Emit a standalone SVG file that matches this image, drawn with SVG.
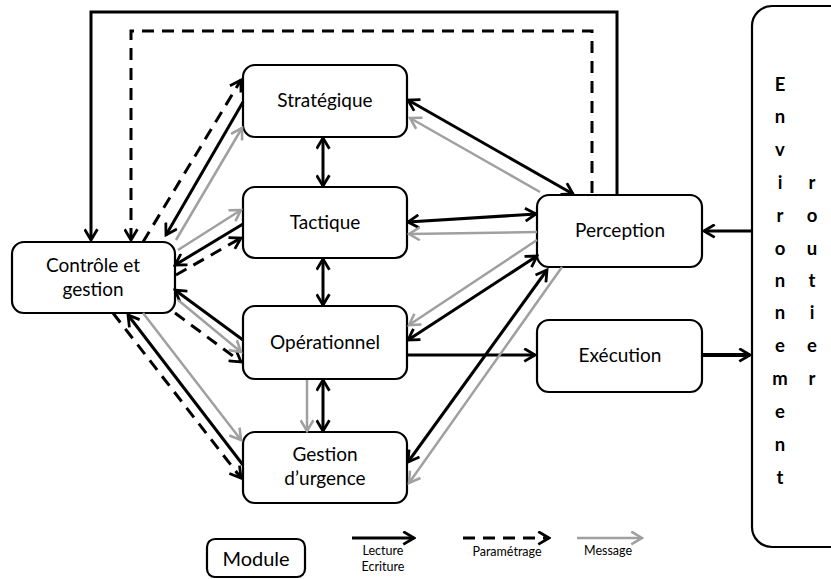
<svg xmlns="http://www.w3.org/2000/svg" width="831" height="579" viewBox="0 0 831 579">
<style>
.box{fill:#fff;stroke:#000;stroke-width:2.2}
.t{font-family:Lato,"Open Sans","Liberation Sans",sans-serif;font-size:19px;fill:#000;text-anchor:middle}
.env{font-family:Lato,"Open Sans","Liberation Sans",sans-serif;font-size:18.5px;font-weight:bold;fill:#000;text-anchor:middle}
.lg{font-family:Lato,"Open Sans","Liberation Sans",sans-serif;font-size:12.5px;fill:#000;text-anchor:middle}
.s{fill:none;stroke:#000;stroke-width:3;marker-end:url(#ab)}
.b{fill:none;stroke:#000;stroke-width:3;marker-end:url(#ab);marker-start:url(#ab)}
.d{fill:none;stroke:#000;stroke-width:3;stroke-dasharray:12 8;marker-end:url(#ab)}
.g{fill:none;stroke:#a0a0a0;stroke-width:2.5;marker-end:url(#ag)}
</style>
<defs>
<marker id="ab" viewBox="0 0 14 14" refX="12" refY="7" markerWidth="15" markerHeight="15" markerUnits="userSpaceOnUse" orient="auto-start-reverse"><path d="M2,1 L12,7 L2,13" fill="none" stroke="#000" stroke-width="2.6" stroke-dasharray="none"/></marker>
<marker id="ag" viewBox="0 0 14 14" refX="12" refY="7" markerWidth="15" markerHeight="15" markerUnits="userSpaceOnUse" orient="auto-start-reverse"><path d="M2,1 L12,7 L2,13" fill="none" stroke="#a0a0a0" stroke-width="2.4"/></marker>
</defs>
<rect width="831" height="579" fill="#fff"/>

<g id="strategique"><rect class="box" x="243" y="65" width="164" height="72" rx="12"/><text class="t" x="325" y="107">Stratégique</text></g>
<g id="tactique"><rect class="box" x="243" y="187" width="164" height="71" rx="12"/><text class="t" x="325" y="229">Tactique</text></g>
<g id="operationnel"><rect class="box" x="243" y="306" width="164" height="73" rx="12"/><text class="t" x="325" y="349">Opérationnel</text></g>
<g id="gestion-urgence"><rect class="box" x="243" y="432" width="164" height="71" rx="12"/><text class="t" x="325" y="461">Gestion</text><text class="t" x="325" y="485">d’urgence</text></g>
<g id="controle"><rect class="box" x="12" y="242" width="163" height="71" rx="12"/><text class="t" x="93" y="272">Contrôle et</text><text class="t" x="93" y="296">gestion</text></g>
<g id="perception"><rect class="box" x="537" y="195" width="165" height="72" rx="12"/><text class="t" x="620" y="237">Perception</text></g>
<g id="execution"><rect class="box" x="537" y="320" width="165" height="72" rx="12"/><text class="t" x="620" y="362">Exécution</text></g>
<g id="environnement"><rect class="box" x="752" y="6" width="110" height="541" rx="20"/>
<text class="env"><tspan x="780" y="91">E</tspan><tspan x="780" y="123">n</tspan><tspan x="780" y="156">v</tspan><tspan x="780" y="189">i</tspan><tspan x="780" y="222">r</tspan><tspan x="780" y="255">o</tspan><tspan x="780" y="287">n</tspan><tspan x="780" y="319">n</tspan><tspan x="780" y="352">e</tspan><tspan x="780" y="385">m</tspan><tspan x="780" y="418">e</tspan><tspan x="780" y="451">n</tspan><tspan x="780" y="484">t</tspan></text>
<text class="env"><tspan x="812" y="189">r</tspan><tspan x="812" y="222">o</tspan><tspan x="812" y="255">u</tspan><tspan x="812" y="287">t</tspan><tspan x="812" y="319">i</tspan><tspan x="812" y="352">e</tspan><tspan x="812" y="385">r</tspan></text></g>

<g id="connectors">
<path class="s" d="M617,195 V12 H91 V240"/>
<path class="d" d="M592,193 V31 H131 V240"/>
<path class="b" d="M323,138 V186"/>
<path class="b" d="M323,259 V305"/>
<path class="b" d="M323,380 V431"/>
<path class="g" d="M307,380 V431"/>
<path class="s" d="M752,231 H704"/>
<path class="s" style="stroke-width:4" d="M702,355 H750"/>
<path class="s" d="M407,355 H535"/>
<path class="b" d="M408,100 L573,194"/>
<path class="b" d="M408,222 L536,214"/>
<path class="b" d="M408,340 L537,256"/>
<path class="b" d="M408,462 L547,270"/>
<path class="g" d="M540,192 L410,118"/>
<path class="g" d="M537,232 L409,234"/>
<path class="g" d="M537,240 L409,325"/>
<path class="g" d="M562,267 L409,483"/>
<path class="s" d="M243,102 L166,235"/>
<path class="s" d="M243,224 L175,265"/>
<path class="s" d="M243,340 L175,290"/>
<path class="s" d="M243,465 L128,315"/>
<path class="d" d="M143,242 L241,80"/>
<path class="d" d="M176,275 L241,238"/>
<path class="d" d="M175,313 L241,362"/>
<path class="d" d="M113,313 L241,478"/>
<path class="g" d="M176,240 L242,128"/>
<path class="g" d="M178,250 L241,210"/>
<path class="g" d="M178,300 L241,352"/>
<path class="g" d="M143,313 L241,440"/>
</g>

<g id="legend">
<g id="legend-module"><rect class="box" x="207" y="539" width="98" height="38" rx="8"/><text class="t" style="font-size:20px" x="256" y="566">Module</text></g>
<path class="s" d="M352,538 H414"/>
<text class="lg" x="383" y="555">Lecture</text><text class="lg" x="383" y="571">Ecriture</text>
<path class="d" d="M463,538 H549"/>
<text class="lg" x="507" y="556">Paramétrage</text>
<path class="g" d="M577,538 H642"/>
<text class="lg" x="608" y="555">Message</text>
</g>
</svg>
